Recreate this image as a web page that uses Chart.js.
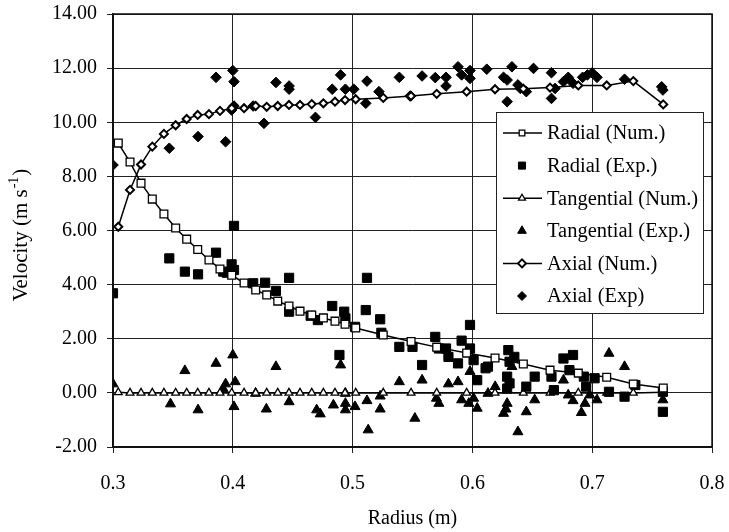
<!DOCTYPE html>
<html lang="en">
<head>
    <meta charset="UTF-8">
    <title>Velocity vs Radius</title>
    <script src="https://cdn.jsdelivr.net/npm/chart.js"></script>
    <style>
        body { margin: 0; background: #fff; }
        canvas { display: block; }
    </style>
</head>
<body>
    <canvas id="chart" width="729" height="532"></canvas>

    <script>
        // numerical solution grid (m)
        const radiusNum = [0.3044, 0.3142, 0.3234, 0.3328, 0.3425, 0.3523, 0.3615, 0.3707, 0.3801, 0.3893,
            0.3991, 0.4094, 0.4191, 0.4283, 0.4375, 0.4469, 0.4561, 0.4659, 0.4756, 0.4853,
            0.4937, 0.5026, 0.5256, 0.5488, 0.5702, 0.5952, 0.6189, 0.6425, 0.6648, 0.6884,
            0.7121, 0.7343, 0.7593];
        const radialNum = [9.23, 8.53, 7.75, 7.16, 6.61, 6.09, 5.68, 5.30, 4.91, 4.58,
            4.35, 4.06, 3.80, 3.62, 3.39, 3.21, 3.02, 2.88, 2.77, 2.65,
            2.54, 2.40, 2.14, 1.90, 1.69, 1.47, 1.29, 1.07, 0.84, 0.73,
            0.58, 0.33, 0.18];
        const tangentialNum = [0.02, 0, 0, 0, 0, 0, 0, 0, 0, 0,
            0, 0, 0, 0, 0, 0, 0, 0, 0, 0,
            0, 0, 0, 0, 0, 0, 0, 0, 0, 0,
            0, 0, 0.02];
        const axialNum = [6.14, 7.50, 8.44, 9.10, 9.57, 9.89, 10.12, 10.27, 10.30, 10.42,
            10.52, 10.52, 10.60, 10.57, 10.60, 10.64, 10.64, 10.67, 10.70, 10.76,
            10.82, 10.85, 10.90, 10.97, 11.05, 11.13, 11.22, 11.24, 11.28, 11.36,
            11.36, 11.52, 10.66];

        // experimental points
        const radialExpR = [0.300, 0.347, 0.360, 0.371, 0.386, 0.392, 0.395, 0.399, 0.401, 0.401,
            0.417, 0.427, 0.436, 0.447, 0.447, 0.465, 0.471, 0.483, 0.489, 0.493,
            0.494, 0.502, 0.511, 0.512, 0.523, 0.524, 0.539, 0.550, 0.558, 0.569,
            0.572, 0.578, 0.580, 0.588, 0.591, 0.598, 0.598, 0.601, 0.604, 0.611,
            0.613, 0.629, 0.630, 0.631, 0.631, 0.629, 0.635, 0.645, 0.652, 0.666,
            0.668, 0.676, 0.681, 0.684, 0.693, 0.695, 0.702, 0.714, 0.727, 0.736,
            0.759, 0.759];
        const radialExpV = [3.68, 4.97, 4.48, 4.38, 5.18, 4.48, 4.44, 4.75, 4.54, 6.17,
            4.05, 4.07, 3.77, 4.25, 3.00, 2.85, 2.69, 3.21, 1.40, 3.00,
            2.75, 2.44, 3.06, 4.25, 2.72, 2.22, 1.70, 1.70, 1.03, 2.07,
            1.64, 1.64, 1.33, 1.09, 1.93, 2.51, 1.64, 1.21, 0.47, 0.91,
            0.97, 0.60, 1.58, 1.15, 0.35, 0.16, 1.33, 0.23, 0.60, 0.60,
            0.10, 1.27, 0.84, 1.40, 0.60, 0.23, 0.54, 0.04, -0.14, 0.29,
            0.04, -0.70];

        const tangExpR = [0.300, 0.348, 0.360, 0.371, 0.386, 0.392, 0.394, 0.400, 0.402, 0.401,
            0.419, 0.428, 0.436, 0.447, 0.470, 0.473, 0.484, 0.490, 0.494, 0.494,
            0.494, 0.502, 0.512, 0.513, 0.523, 0.523, 0.539, 0.552, 0.558, 0.570,
            0.572, 0.580, 0.588, 0.591, 0.597, 0.598, 0.601, 0.604, 0.613, 0.619,
            0.626, 0.629, 0.628, 0.633, 0.638, 0.645, 0.652, 0.676, 0.680, 0.684,
            0.691, 0.694, 0.698, 0.704, 0.714, 0.727, 0.759];
        const tangExpV = [0.33, -0.41, 0.82, -0.63, 1.09, 0.15, 0.33, 1.40, 0.41, -0.51,
            -0.02, -0.60, 0.97, -0.33, -0.63, -0.78, -0.45, 1.03, -0.02, -0.39,
            -0.63, -0.51, -0.29, -1.37, -0.12, -0.60, 0.41, -0.94, 0.47, -0.20,
            -0.39, 0.33, 0.41, -0.26, -0.39, 0.79, -0.20, -0.57, -0.02, 0.23,
            -0.76, -0.39, -0.60, 0.97, -1.44, -0.70, -0.26, 0.47, -0.08, -0.29,
            -0.73, -0.39, -0.08, -0.26, 1.46, 0.97, -0.26];

        const axialExpR = [0.300, 0.347, 0.371, 0.386, 0.394, 0.400, 0.401, 0.401, 0.399, 0.417,
            0.426, 0.436, 0.447, 0.447, 0.469, 0.483, 0.490, 0.494, 0.501, 0.511,
            0.512, 0.522, 0.539, 0.548, 0.558, 0.569, 0.578, 0.578, 0.588, 0.591,
            0.598, 0.598, 0.612, 0.626, 0.629, 0.629, 0.633, 0.638, 0.640, 0.645,
            0.651, 0.666, 0.666, 0.669, 0.676, 0.680, 0.684, 0.692, 0.696, 0.700,
            0.704, 0.727, 0.758, 0.759];
        const axialExpV = [8.42, 9.04, 9.47, 11.66, 9.28, 11.91, 11.50, 10.60, 10.45, 10.60,
            9.96, 11.47, 11.34, 11.22, 10.18, 11.22, 11.75, 11.22, 11.22, 10.70,
            11.52, 11.13, 11.66, 10.97, 11.71, 11.65, 11.66, 11.34, 12.05, 11.75,
            11.91, 11.62, 11.96, 11.66, 11.56, 10.76, 12.05, 11.38, 11.25, 11.13,
            11.99, 11.83, 10.88, 11.25, 11.50, 11.66, 11.44, 11.66, 11.75, 11.83,
            11.66, 11.59, 11.31, 11.19];

        const legendLabels = ['Radial (Num.)', 'Radial (Exp.)', 'Tangential (Num.)',
            'Tangential (Exp.)', 'Axial (Num.)', 'Axial (Exp)'];

        const FONT = "'Liberation Serif', 'Times New Roman', serif";
        const pts = (xs, ys) => xs.map((x, i) => ({ x: x, y: ys[i] }));

        // marker drawing for the legend box
        function marker(ctx, style, r, x, y, fill, bw) {
            ctx.save();
            ctx.beginPath();
            if (style === 'rect') {
                const s = Math.SQRT1_2 * r;
                ctx.rect(x - s, y - s, 2 * s, 2 * s);
            } else if (style === 'triangle') {
                for (let k = 0; k < 3; k++) {
                    const a = k * 2 * Math.PI / 3;
                    const px = x + Math.sin(a) * r, py = y - Math.cos(a) * r;
                    k ? ctx.lineTo(px, py) : ctx.moveTo(px, py);
                }
                ctx.closePath();
            } else {
                ctx.moveTo(x - r, y); ctx.lineTo(x, y - r);
                ctx.lineTo(x + r, y); ctx.lineTo(x, y + r);
                ctx.closePath();
            }
            ctx.fillStyle = fill;
            ctx.fill();
            ctx.lineWidth = bw;
            ctx.strokeStyle = '#000';
            ctx.stroke();
            ctx.restore();
        }

        const extras = {
            id: 'extras',
            afterDatasetsDraw(chart) {
                const ctx = chart.ctx;
                const a = chart.chartArea;
                // frame
                ctx.save();
                ctx.strokeStyle = '#111';
                ctx.lineWidth = 1.5;
                ctx.strokeRect(a.left, a.top, a.right - a.left, a.bottom - a.top);

                // legend box
                const bx = 496, by = 112, bw = 207, bh = 201;
                ctx.fillStyle = '#fff';
                ctx.fillRect(bx, by, bw, bh);
                ctx.lineWidth = 1;
                ctx.strokeStyle = '#222';
                ctx.strokeRect(bx + 0.5, by + 0.5, bw, bh);

                ctx.font = '20.5px ' + FONT;
                ctx.textBaseline = 'middle';
                ctx.textAlign = 'left';
                chart.data.datasets.forEach((ds, i) => {
                    const yy = 133 + i * 32.6;
                    if (ds.showLine) {
                        ctx.beginPath();
                        ctx.moveTo(503, yy);
                        ctx.lineTo(542, yy);
                        ctx.strokeStyle = '#000';
                        ctx.lineWidth = 1.5;
                        ctx.stroke();
                    }
                    const r = ds.showLine ? 4 : (ds.pointStyle === 'rectRot' ? 4.5 : 5);
                    marker(ctx, ds.pointStyle, r, 522, yy, ds.pointBackgroundColor, ds.pointBorderWidth);
                    ctx.fillStyle = '#000';
                    ctx.fillText(legendLabels[i], 547, yy + 1);
                });

                // y axis title with superscript
                ctx.translate(21, 236);
                ctx.rotate(-Math.PI / 2);
                ctx.fillStyle = '#000';
                ctx.textBaseline = 'middle';
                const t1 = 'Velocity (m s', t3 = ')';
                ctx.font = '21px ' + FONT;
                const w1 = ctx.measureText(t1).width;
                ctx.font = '14px ' + FONT;
                const w2 = ctx.measureText('-1').width;
                ctx.font = '21px ' + FONT;
                const w3 = ctx.measureText(t3).width;
                let x0 = -(w1 + w2 + w3) / 2;
                ctx.fillText(t1, x0, 0);
                ctx.font = '14px ' + FONT;
                ctx.fillText('-1', x0 + w1 + 1, -7);
                ctx.font = '21px ' + FONT;
                ctx.fillText(t3, x0 + w1 + w2 + 2, 0);
                ctx.restore();
            }
        };

        const lineDs = (label, data, style, r, bw) => ({
            label, data, showLine: true,
            borderColor: '#000', borderWidth: 1.5,
            pointStyle: style, pointRadius: r,
            pointBackgroundColor: '#fff', pointBorderColor: '#000', pointBorderWidth: bw
        });
        const dotDs = (label, data, style, r) => ({
            label, data, showLine: false,
            pointStyle: style, pointRadius: r,
            pointBackgroundColor: '#000', pointBorderColor: '#000', pointBorderWidth: 1
        });

        const chart = new Chart(document.getElementById('chart'), {
            type: 'scatter',
            data: {
                datasets: [
                    lineDs('Radial (Num.)', pts(radiusNum, radialNum), 'rect', 5.5, 1.3),
                    dotDs('Radial (Exp.)', pts(radialExpR, radialExpV), 'rect', 6.5),
                    lineDs('Tangential (Num.)', pts(radiusNum, tangentialNum), 'triangle', 4.5, 1.3),
                    dotDs('Tangential (Exp.)', pts(tangExpR, tangExpV), 'triangle', 5.8),
                    lineDs('Axial (Num.)', pts(radiusNum, axialNum), 'rectRot', 4, 2),
                    dotDs('Axial (Exp)', pts(axialExpR, axialExpV), 'rectRot', 5.3)
                ]
            },
            options: {
                responsive: false,
                animation: false,
                layout: { autoPadding: false, padding: { top: 14, right: 17, left: 0, bottom: 0 } },
                plugins: {
                    legend: { display: false },
                    tooltip: { enabled: false }
                },
                scales: {
                    x: {
                        type: 'linear',
                        min: 0.3, max: 0.8,
                        ticks: {
                            stepSize: 0.1,
                            callback: v => v.toFixed(1),
                            color: '#000',
                            font: { family: FONT, size: 20 },
                            padding: 19,
                            maxRotation: 0
                        },
                        grid: { color: '#222', lineWidth: 1, tickLength: 6 },
                        border: { color: '#111', width: 1.5 },
                        title: {
                            display: true, text: 'Radius (m)', color: '#000',
                            font: { family: FONT, size: 20 },
                            padding: { top: 0, bottom: 1 }
                        },
                        afterFit: s => { s.height = 85; s.paddingRight = 0; s.paddingLeft = 0; }
                    },
                    y: {
                        min: -2, max: 14,
                        ticks: {
                            stepSize: 2,
                            callback: v => v.toFixed(2),
                            color: '#000',
                            font: { family: FONT, size: 20 },
                            padding: 10
                        },
                        grid: { color: '#222', lineWidth: 1, tickLength: 6 },
                        border: { color: '#111', width: 1.5 },
                        afterFit: s => { s.width = 113; s.paddingTop = 0; s.paddingBottom = 0; }
                    }
                }
            },
            plugins: [extras]
        });
    </script>
</body>
</html>
